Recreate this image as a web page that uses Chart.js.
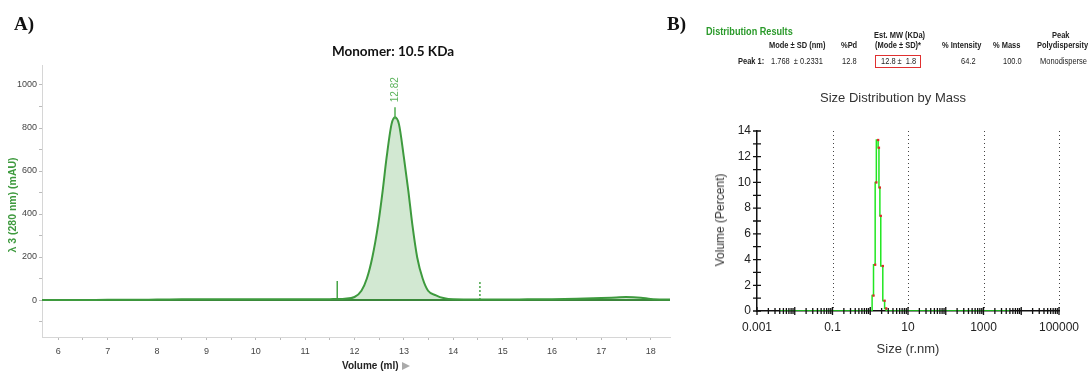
<!DOCTYPE html>
<html>
<head>
<meta charset="utf-8">
<script src="https://cdn.jsdelivr.net/npm/chart.js@4"></script>
<style>
    body { margin: 0; background: #fff; width: 1089px; height: 372px; position: relative; overflow: hidden; font-family: "Liberation Sans", Arial, sans-serif; }
    #wrapA { position: absolute; left: 0; top: 0; width: 690px; height: 372px; }
    #wrapB { position: absolute; left: 690px; top: 0; width: 399px; height: 372px; }
    .t { position: absolute; white-space: nowrap; line-height: 1; }
    .panel { font-family: "Liberation Serif", serif; font-weight: bold; font-size: 19px; color: #111; }
    .tbl { font-family: "Liberation Sans", Arial, sans-serif; font-size: 9px; color: #222; transform: scaleX(0.83); transform-origin: left center; }
    .b { font-weight: bold; }
    .rot { transform: translate(-50%, -50%) rotate(-90deg); }
</style>
</head>
<body>
<div id="wrapA"><canvas id="chartA" width="690" height="372"></canvas></div>
<div id="wrapB"><canvas id="chartB" width="399" height="372"></canvas></div>

<div class="t panel" style="left:14px;top:14px;">A)</div>
<div class="t panel" style="left:667px;top:14px;">B)</div>

<div class="t" style="left:393px;top:52px;transform:translate(-50%,-50%);font-family:Lato,sans-serif;font-weight:bold;font-size:13.5px;color:#111;">Monomer: 10.5 KDa</div>
<div class="t rot" style="left:12px;top:205px;font-weight:bold;font-size:10.5px;color:#3e9a3e;">λ 3 (280 nm) (mAU)</div>
<div class="t" style="left:342px;top:361px;font-weight:bold;font-size:10px;color:#222;">Volume (ml)</div>
<div class="t" style="left:402px;top:362px;width:0;height:0;border-left:8px solid #aaa;border-top:4px solid transparent;border-bottom:4px solid transparent;"></div>

<div class="t tbl b" style="left:706px;top:26px;font-size:11px;color:#2a9a2a;">Distribution Results</div>
<div class="t tbl b" style="left:769px;top:41px;">Mode ± SD (nm)</div>
<div class="t tbl b" style="left:841px;top:41px;">%Pd</div>
<div class="t tbl b" style="left:874px;top:31px;">Est. MW (KDa)</div>
<div class="t tbl b" style="left:875px;top:41px;">(Mode ± SD)*</div>
<div class="t tbl b" style="left:942px;top:41px;">% Intensity</div>
<div class="t tbl b" style="left:993px;top:41px;">% Mass</div>
<div class="t tbl b" style="left:1052px;top:31px;">Peak</div>
<div class="t tbl b" style="left:1037px;top:41px;">Polydispersity</div>
<div class="t tbl b" style="left:738px;top:57px;">Peak 1:</div>
<div class="t tbl" style="left:771px;top:57px;">1.768 &nbsp;± 0.2331</div>
<div class="t tbl" style="left:842px;top:57px;">12.8</div>
<div class="t" style="left:875px;top:55px;width:44px;height:11px;border:1px solid #e03030;"></div>
<div class="t tbl" style="left:881px;top:57px;">12.8 ± &nbsp;1.8</div>
<div class="t tbl" style="left:961px;top:57px;">64.2</div>
<div class="t tbl" style="left:1003px;top:57px;">100.0</div>
<div class="t tbl" style="left:1040px;top:57px;">Monodisperse</div>

<div class="t" style="left:893px;top:97px;transform:translate(-50%,-50%);font-size:13px;color:#333;">Size Distribution by Mass</div>
<div class="t rot" style="left:720px;top:220px;font-size:12px;color:#333;">Volume (Percent)</div>
<div class="t" style="left:908px;top:348px;transform:translate(-50%,-50%);font-size:13px;color:#333;">Size (r.nm)</div>

<script>
// ---- panel A: chromatogram ----
const volumeMl = [5.67, 6, 6.5, 7, 7.5, 8, 8.5, 9, 9.5, 10,
    10.5, 11, 11.5, 11.8, 12.0, 12.14, 12.25, 12.36, 12.48, 12.57,
    12.65, 12.75, 12.82, 12.9, 13.0, 13.09, 13.17, 13.27, 13.38, 13.49,
    13.65, 13.8, 14.0, 14.5, 15.0, 15.5, 16.0, 16.5, 17.0, 17.3,
    17.5, 17.8, 18.0, 18.39];
const absorbanceMau = [0, 0, 0, 1, 1, 2, 3, 4, 4, 3,
    3, 3, 4, 6, 14, 43, 100, 198, 353, 508,
    663, 818, 850, 818, 663, 508, 353, 198, 100, 43,
    22, 9, 3, 2, 2, 3, 4, 6, 9, 12,
    14, 11, 5, 2];
const xRangeA = [5.67, 18.39];
const yRangeA = [-172, 1093];
const xTicksA = [6, 6.5, 7, 7.5, 8, 8.5, 9, 9.5, 10, 10.5, 11, 11.5, 12, 12.5, 13, 13.5, 14, 14.5, 15, 15.5, 16, 16.5, 17, 17.5, 18];
const yTicksA = [-100, 0, 100, 200, 300, 400, 500, 600, 700, 800, 900, 1000];
const yLabelsA = [0, 200, 400, 600, 800, 1000];
const fractionMarksMl = [11.65, 14.54];
const fractionMarkMau = 88;
const peakVolumeMl = 12.82;
const peakMau = 850;

// ---- panel B: DLS size distribution ----
const sizeNm = [0.004, 1.12, 1.22, 1.35, 1.45, 1.62, 1.70, 1.80, 1.90, 2.15, 2.40, 2.65, 2.90, 5000];
const volumePct = [0, 0, 1.2, 3.6, 10.0, 13.3, 12.7, 9.6, 7.4, 3.5, 0.8, 0.2, 0, 0];
const xDecadesB = [0.001, 0.01, 0.1, 1, 10, 100, 1000, 10000, 100000];
const xLabelsB = [0.001, 0.1, 10, 1000, 100000];
const dottedGridB = [0.1, 10, 1000, 100000];
const yTicksB = [0, 1, 2, 3, 4, 5, 6, 7, 8, 9, 10, 11, 12, 13, 14];
const yLabelsB = [0, 2, 4, 6, 8, 10, 12, 14];

const green = "#3e9a3e";

const peakLabelPlugin = {
    id: "peakLabel",
    afterDatasetsDraw(chart) {
        const { ctx, scales: { x, y } } = chart;
        const px = x.getPixelForValue(peakVolumeMl);
        const py = y.getPixelForValue(peakMau);
        ctx.save();
        ctx.strokeStyle = "#4fae4f";
        ctx.lineWidth = 1.5;
        ctx.beginPath();
        ctx.moveTo(px, py + 2);
        ctx.lineTo(px, py - 10);
        ctx.stroke();
        ctx.translate(px, py - 15);
        ctx.rotate(-Math.PI / 2);
        ctx.fillStyle = "#5cb35c";
        ctx.font = "10px 'Liberation Sans', Arial, sans-serif";
        ctx.textAlign = "left";
        ctx.textBaseline = "middle";
        ctx.fillText(String(peakVolumeMl), 0, 0);
        ctx.restore();
    }
};

new Chart(document.getElementById("chartA"), {
    type: "line",
    data: {
        datasets: [
            {
                data: volumeMl.map((v, i) => ({ x: v, y: absorbanceMau[i] })),
                borderColor: green,
                backgroundColor: "rgba(62, 154, 62, 0.23)",
                borderWidth: 2,
                fill: "origin",
                pointRadius: 0,
                cubicInterpolationMode: "monotone"
            },
            {
                data: xRangeA.map(v => ({ x: v, y: 0 })),
                borderColor: "#3a843a",
                borderWidth: 2,
                pointRadius: 0
            },
            {
                data: [{ x: fractionMarksMl[0], y: 0 }, { x: fractionMarksMl[0], y: fractionMarkMau }],
                borderColor: "#45a445",
                borderWidth: 1.5,
                pointRadius: 0
            },
            {
                data: [{ x: fractionMarksMl[1], y: 0 }, { x: fractionMarksMl[1], y: fractionMarkMau }],
                borderColor: "#45a445",
                borderWidth: 1.5,
                borderDash: [2, 2],
                pointRadius: 0
            }
        ]
    },
    options: {
        responsive: false,
        animation: false,
        layout: { padding: { top: 65, right: 20, left: 0, bottom: 0 } },
        plugins: { legend: { display: false }, tooltip: { enabled: false } },
        scales: {
            x: {
                type: "linear",
                min: xRangeA[0],
                max: xRangeA[1],
                afterBuildTicks: s => { s.ticks = xTicksA.map(v => ({ value: v })); },
                afterFit: s => { s.height = 35; },
                grid: { drawOnChartArea: false, tickLength: 3, tickColor: "#bbb" },
                border: { color: "#d6d6d6", width: 1 },
                ticks: {
                    autoSkip: false,
                    maxRotation: 0,
                    padding: 6,
                    color: "#444",
                    font: { size: 9, family: "'Liberation Sans', Arial, sans-serif" },
                    callback: v => Number.isInteger(v) ? String(v) : ""
                }
            },
            y: {
                min: yRangeA[0],
                max: yRangeA[1],
                afterBuildTicks: s => { s.ticks = yTicksA.map(v => ({ value: v })); },
                afterFit: s => { s.width = 42; },
                grid: { drawOnChartArea: false, tickLength: 3, tickColor: "#bbb" },
                border: { color: "#d6d6d6", width: 1 },
                ticks: {
                    autoSkip: false,
                    padding: 2,
                    color: "#444",
                    font: { size: 9, family: "'Liberation Sans', Arial, sans-serif" },
                    callback: v => yLabelsA.includes(v) ? String(v) : ""
                }
            }
        }
    },
    plugins: [peakLabelPlugin]
});

const dlsAxesPlugin = {
    id: "dlsAxes",
    beforeDatasetsDraw(chart) {
        const { ctx, chartArea: a, scales: { x } } = chart;
        ctx.save();
        ctx.strokeStyle = "#444";
        ctx.lineWidth = 1;
        ctx.setLineDash([1, 3]);
        for (const v of dottedGridB) {
            const px = Math.round(x.getPixelForValue(v)) + 0.5;
            ctx.beginPath();
            ctx.moveTo(px, a.top);
            ctx.lineTo(px, a.bottom);
            ctx.stroke();
        }
        ctx.restore();
    },
    afterDraw(chart) {
        const { ctx, chartArea: a, scales: { x, y } } = chart;
        ctx.save();
        ctx.strokeStyle = "#111";
        ctx.lineWidth = 1.3;
        ctx.beginPath();
        for (const v of yTicksB) {
            const py = y.getPixelForValue(v);
            ctx.moveTo(a.left - 4, py);
            ctx.lineTo(a.left + 4, py);
        }
        for (let i = 0; i < xDecadesB.length; i++) {
            const d = xDecadesB[i];
            const px = x.getPixelForValue(d);
            ctx.moveTo(px, a.bottom - 4);
            ctx.lineTo(px, a.bottom + 4);
            if (i < xDecadesB.length - 1) {
                for (let m = 2; m <= 9; m++) {
                    const mx = x.getPixelForValue(d * m);
                    ctx.moveTo(mx, a.bottom - 3);
                    ctx.lineTo(mx, a.bottom + 3);
                }
            }
        }
        ctx.stroke();
        ctx.restore();
    }
};

new Chart(document.getElementById("chartB"), {
    type: "line",
    data: {
        datasets: [{
            data: sizeNm.map((s, i) => ({ x: s, y: volumePct[i] })),
            borderColor: "#22e622",
            borderWidth: 1.5,
            stepped: "after",
            pointStyle: "rect",
            pointRadius: c => (c.raw && c.raw.y > 0 ? 1.6 : 0),
            pointBackgroundColor: "#e02a2a",
            pointBorderWidth: 0
        }]
    },
    options: {
        responsive: false,
        animation: false,
        layout: { padding: { top: 131, right: 30, left: 0, bottom: 0 } },
        plugins: { legend: { display: false }, tooltip: { enabled: false } },
        scales: {
            x: {
                type: "logarithmic",
                min: 0.001,
                max: 100000,
                afterBuildTicks: s => { s.ticks = xLabelsB.map(v => ({ value: v })); },
                afterFit: s => { s.height = 61; },
                grid: { display: true, drawOnChartArea: false, drawTicks: false, color: "rgba(0,0,0,0)" },
                border: { color: "#111", width: 1.5 },
                ticks: {
                    autoSkip: false,
                    maxRotation: 0,
                    padding: 9,
                    color: "#222",
                    font: { size: 12, family: "'Liberation Sans', Arial, sans-serif" },
                    callback: v => String(v)
                }
            },
            y: {
                min: 0,
                max: 14,
                afterBuildTicks: s => { s.ticks = yLabelsB.map(v => ({ value: v })); },
                afterFit: s => { s.width = 67; },
                grid: { display: true, drawOnChartArea: false, drawTicks: false, color: "rgba(0,0,0,0)" },
                border: { color: "#111", width: 1.5 },
                ticks: {
                    autoSkip: false,
                    padding: 6,
                    color: "#222",
                    font: { size: 12, family: "'Liberation Sans', Arial, sans-serif" },
                    callback: v => String(v)
                }
            }
        }
    },
    plugins: [dlsAxesPlugin]
});
</script>
</body>
</html>
